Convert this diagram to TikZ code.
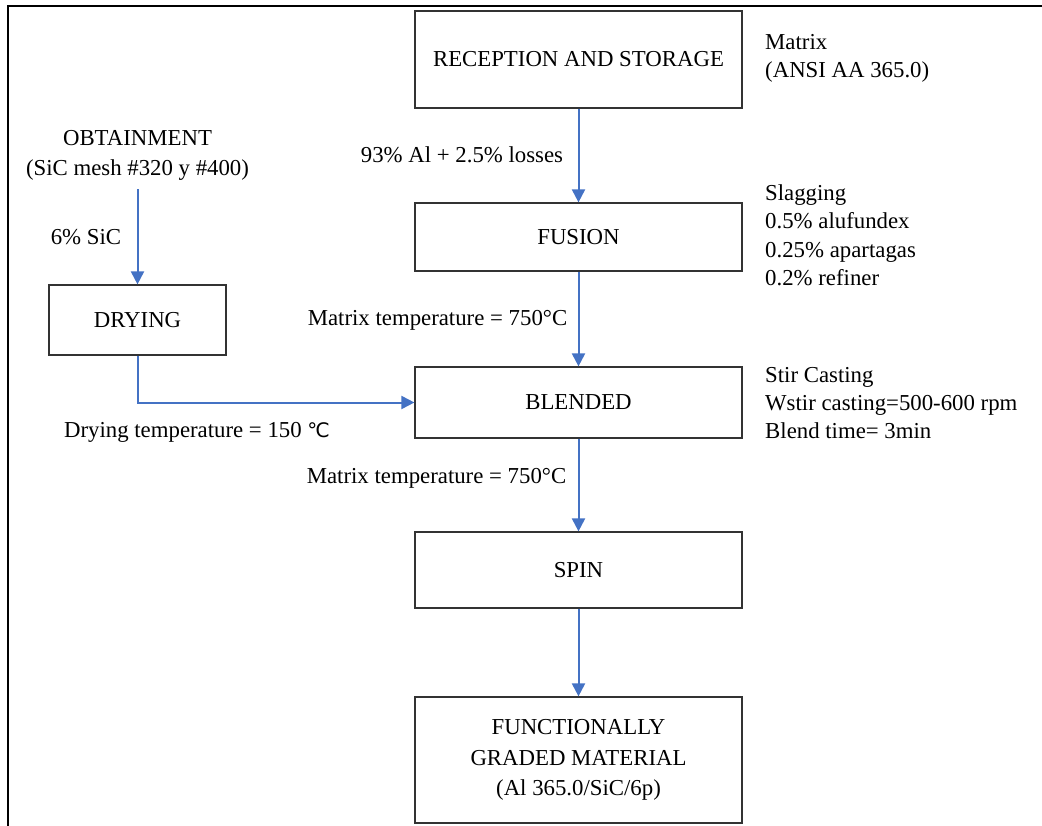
\documentclass[tikz,border=0pt]{standalone}
\usepackage{fontspec}
\setmainfont{Liberation Serif}
\newfontfamily\celsiusfont{DejaVu Sans}
\usetikzlibrary{arrows.meta}
\definecolor{arrowblue}{HTML}{4472C4}
\begin{document}
\begin{tikzpicture}[x=1pt,y=-1pt,
  every node/.style={font=\fontsize{22.8}{28.5}\selectfont},
  box/.style={draw=black!80, line width=1.2pt, minimum width=327pt, inner sep=0pt, align=center},
  lbl/.style={inner sep=0pt, align=center},
  note/.style={inner sep=0pt, align=left, anchor=west},
  flow/.style={draw=arrowblue, line width=2pt, -{Triangle[width=13pt,length=13pt]}}]
\useasboundingbox (0,0) rectangle (1042,826);
\draw[line width=1.5pt] (8,826) -- (8,6) -- (1042,6);

% main boxes
\node[box, minimum height=97pt] (rec) at (578.5,59.5) {RECEPTION AND STORAGE};
\node[box, minimum height=68pt] (fus) at (578.5,237) {FUSION};
\node[box, minimum height=71pt] (bld) at (578.5,402.5) {BLENDED};
\node[box, minimum height=76pt] (spn) at (578.5,570) {SPIN};
\node[box, minimum height=126pt, font=\fontsize{22.8}{30.5}\selectfont] (fgm) at (578.5,760) {FUNCTIONALLY\\GRADED MATERIAL\\(Al 365.0/SiC/6p)};
\node[box, minimum width=177pt, minimum height=70pt] (dry) at (137.5,320) {DRYING};

% left source
\node[lbl, font=\fontsize{22.8}{30}\selectfont] (obt) at (137.5,155) {OBTAINMENT\\(SiC mesh \#320 y \#400)};

% labels
\node[note] (mat) at (765,58.5) {Matrix\\(ANSI AA 365.0)};
\node[lbl] (loss) at (462,155) {93\% Al + 2.5\% losses};
\node[lbl] (sic) at (86,237) {6\% SiC};
\node[note] (slag) at (765,235.5) {Slagging\\0.5\% alufundex\\0.25\% apartagas\\0.2\% refiner};
\node[lbl] (mt1) at (437.5,320) {Matrix temperature = 750°C};
\node[lbl] (dt) at (197,432) {Drying temperature = 150 {\celsiusfont\fontsize{20}{24}\selectfont ℃}};
\node[note, font=\fontsize{22.8}{28}\selectfont] (stir) at (765,403) {Stir Casting\\Wstir casting=500-600 rpm\\Blend time= 3min};
\node[lbl] (mt2) at (436.5,478) {Matrix temperature = 750°C};

% connectors
\draw[flow] (rec) -- (fus);
\draw[flow] (fus) -- (bld);
\draw[flow] (bld) -- (spn);
\draw[flow] (spn) -- (fgm);
\draw[flow] ([yshift=-9pt]obt.south) -- (dry);
\draw[flow] (dry.south) |- (bld.west);
\end{tikzpicture}
\end{document}
